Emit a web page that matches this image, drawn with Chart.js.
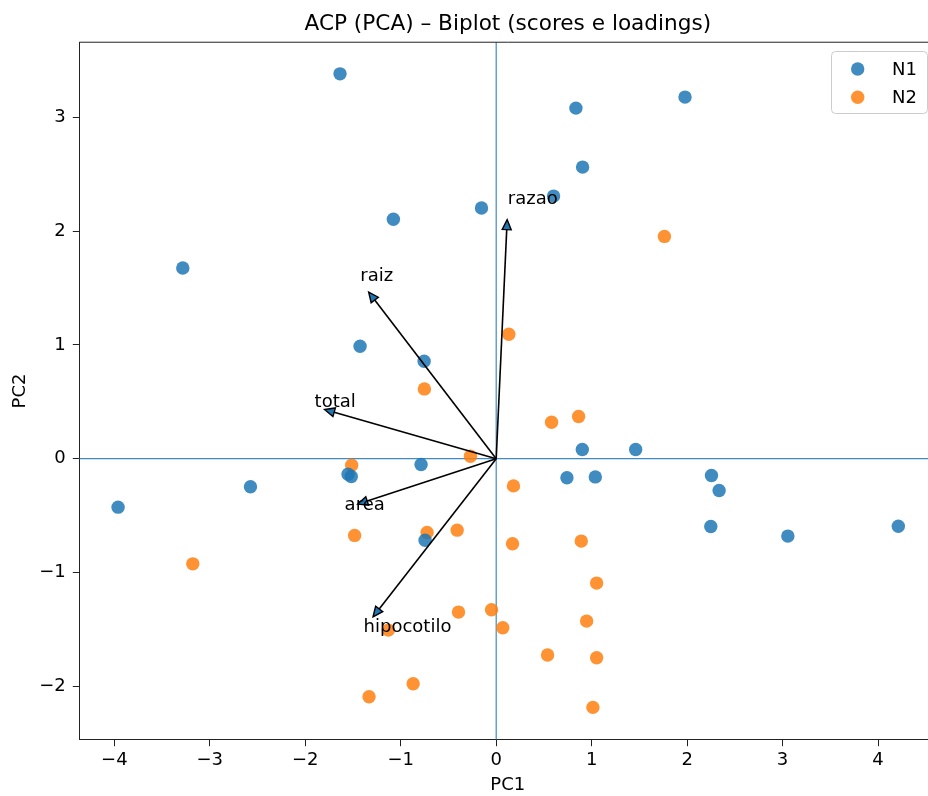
<!DOCTYPE html>
<html>
<head>
<meta charset="utf-8">
<script src="https://cdn.jsdelivr.net/npm/chart.js@4.4.1/dist/chart.umd.min.js"></script>
<style>
  html, body { margin: 0; padding: 0; background: #fff; overflow: hidden; }
  #wrap { width: 943px; height: 796px; }
</style>
</head>
<body>
<div id="wrap"><canvas id="biplot" width="943" height="796"></canvas></div>
<script>
// Scores (PC1, PC2)
const n1X = [-1.636, 0.835, 1.978, 0.905, 0.601, -0.154, -1.077, -3.283, -1.426, -0.755,
             0.902, 1.461, 0.741, 1.038, 2.255, 2.335, 2.248, 3.055, 4.212, -0.787,
             -1.552, -1.518, -2.574, -3.961, -0.745];
const n1Y = [3.381, 3.080, 3.177, 2.562, 2.307, 2.202, 2.103, 1.675, 0.988, 0.856,
             0.081, 0.081, -0.168, -0.160, -0.148, -0.279, -0.596, -0.680, -0.593, -0.051,
             -0.136, -0.157, -0.247, -0.426, -0.716];

const n2X = [1.762, 0.132, -0.752, 0.863, 0.580, -0.270, 0.181, -1.514, -1.483, -0.724,
             -0.409, 0.171, 0.891, 1.052, -3.178, -0.395, -0.049, 0.069, 0.947, 0.538,
             1.052, 1.013, -1.130, -0.870, -1.332];
const n2Y = [1.953, 1.093, 0.613, 0.370, 0.320, 0.022, -0.239, -0.057, -0.674, -0.648,
             -0.628, -0.748, -0.724, -1.093, -0.924, -1.348, -1.327, -1.485, -1.427, -1.725,
             -1.749, -2.185, -1.506, -1.977, -2.091];

// Loadings (arrow tips) and where their names sit
const loadNames = ['razao', 'raiz', 'total', 'area', 'hipocotilo'];
const loadX = [0.115, -1.336, -1.798, -1.451, -1.290];
const loadY = [2.100, 1.464, 0.432, -0.399, -1.389];
const labelX = [0.122, -1.424, -1.902, -1.588, -1.389];
const labelY = [2.240, 1.558, 0.455, -0.452, -1.526];

const xTicks = [-4, -3, -2, -1, 0, 1, 2, 3, 4];
const yTicks = [-2, -1, 0, 1, 2, 3];

const FONT = 'DejaVu Sans';
const blue = 'rgba(31,119,180,0.85)';
const orange = 'rgba(255,127,14,0.85)';

function toPts(xs, ys) {
    return xs.map((x, i) => ({ x: x, y: ys[i] }));
}

function fmt(v) {
    return v < 0 ? '\u2212' + Math.abs(v) : String(v);
}

// zero lines behind the points
const zeroLines = {
    id: 'zeroLines',
    beforeDatasetsDraw(chart) {
        const { ctx, chartArea: a, scales: { x, y } } = chart;
        ctx.save();
        ctx.strokeStyle = 'rgba(31,119,180,0.85)';
        ctx.lineWidth = 1.2;
        ctx.beginPath();
        ctx.moveTo(a.left, y.getPixelForValue(0));
        ctx.lineTo(a.right, y.getPixelForValue(0));
        ctx.moveTo(x.getPixelForValue(0), a.top);
        ctx.lineTo(x.getPixelForValue(0), a.bottom);
        ctx.stroke();
        ctx.restore();
    }
};

// loading arrows + names, spines, legend
const overlay = {
    id: 'overlay',
    afterDatasetsDraw(chart) {
        const { ctx, scales: { x, y } } = chart;
        const x0 = x.getPixelForValue(0), y0 = y.getPixelForValue(0);
        ctx.save();
        loadNames.forEach((name, i) => {
            const tx = x.getPixelForValue(loadX[i]);
            const ty = y.getPixelForValue(loadY[i]);
            const ang = Math.atan2(ty - y0, tx - x0);
            const hl = 10, hw = 4.5;
            const bx = tx - hl * Math.cos(ang), by = ty - hl * Math.sin(ang);
            ctx.strokeStyle = '#000';
            ctx.lineWidth = 1.6;
            ctx.beginPath();
            ctx.moveTo(x0, y0);
            ctx.lineTo(bx, by);
            ctx.stroke();
            ctx.beginPath();
            ctx.moveTo(tx, ty);
            ctx.lineTo(bx + hw * Math.sin(ang), by - hw * Math.cos(ang));
            ctx.lineTo(bx - hw * Math.sin(ang), by + hw * Math.cos(ang));
            ctx.closePath();
            ctx.fillStyle = '#1f77b4';
            ctx.fill();
            ctx.lineWidth = 1.4;
            ctx.stroke();
        });
        ctx.fillStyle = '#000';
        ctx.font = '18px "' + FONT + '"';
        ctx.textAlign = 'left';
        ctx.textBaseline = 'alphabetic';
        loadNames.forEach((name, i) => {
            ctx.fillText(name, x.getPixelForValue(labelX[i]), y.getPixelForValue(labelY[i]));
        });
        ctx.restore();
    },
    afterDraw(chart) {
        const { ctx, chartArea: a } = chart;
        ctx.save();
        ctx.strokeStyle = '#222';
        ctx.lineWidth = 1;
        ctx.beginPath();
        ctx.moveTo(a.left, a.top);
        ctx.lineTo(a.right, a.top);
        ctx.lineTo(a.right, a.bottom);
        ctx.stroke();

        // legend box, upper right
        const bx = 831.5, by = 51.5, bw = 96, bh = 62;
        ctx.fillStyle = 'rgba(255,255,255,0.8)';
        ctx.strokeStyle = '#cccccc';
        ctx.beginPath();
        ctx.roundRect(bx, by, bw, bh, 4);
        ctx.fill();
        ctx.stroke();
        ctx.font = '18px "' + FONT + '"';
        ctx.textBaseline = 'middle';
        ctx.textAlign = 'left';
        chart.data.datasets.forEach((ds, i) => {
            const cy = 69 + i * 28.3;
            ctx.fillStyle = ds.backgroundColor;
            ctx.beginPath();
            ctx.arc(857.7, cy, 6.7, 0, Math.PI * 2);
            ctx.fill();
            ctx.fillStyle = '#000';
            ctx.fillText(ds.label, 892, cy + 1);
        });
        ctx.restore();
    }
};

new Chart(document.getElementById('biplot').getContext('2d'), {
    type: 'scatter',
    data: {
        datasets: [
            { label: 'N1', data: toPts(n1X, n1Y), backgroundColor: blue, borderWidth: 0, pointRadius: 6.7, pointHoverRadius: 6.7 },
            { label: 'N2', data: toPts(n2X, n2Y), backgroundColor: orange, borderWidth: 0, pointRadius: 6.7, pointHoverRadius: 6.7 }
        ]
    },
    options: {
        responsive: false,
        animation: false,
        events: [],
        layout: { padding: 0 },
        plugins: {
            legend: { display: false },
            tooltip: { enabled: false },
            title: {
                display: true,
                fullSize: false,
                text: 'ACP (PCA) \u2013 Biplot (scores e loadings)',
                color: '#000',
                font: { family: FONT, size: 21.6, weight: 'normal', lineHeight: 1.2 },
                padding: { top: 11.3, bottom: 5 }
            }
        },
        scales: {
            x: {
                type: 'linear',
                min: -4.367,
                max: 4.61,
                afterFit(scale) { scale.height = 56.3; },
                afterBuildTicks(scale) { scale.ticks = xTicks.map(v => ({ value: v })); },
                ticks: {
                    includeBounds: false,
                    color: '#000',
                    padding: 3,
                    font: { family: FONT, size: 18 },
                    callback: v => fmt(v)
                },
                grid: { drawOnChartArea: false, drawTicks: true, tickLength: 6.5, color: '#222' },
                border: { display: true, color: '#222', width: 1 },
                title: {
                    display: true, text: 'PC1', color: '#000',
                    font: { family: FONT, size: 18, lineHeight: 1.2 },
                    padding: { top: 0, bottom: 0 }
                }
            },
            y: {
                type: 'linear',
                min: -2.469,
                max: 3.659,
                afterFit(scale) { scale.width = 79.3; },
                afterBuildTicks(scale) { scale.ticks = yTicks.map(v => ({ value: v })); },
                ticks: {
                    includeBounds: false,
                    color: '#000',
                    padding: 7,
                    font: { family: FONT, size: 18 },
                    callback: v => fmt(v)
                },
                grid: { drawOnChartArea: false, drawTicks: true, tickLength: 6.5, color: '#222' },
                border: { display: true, color: '#222', width: 1 },
                title: {
                    display: true, text: 'PC2', color: '#000',
                    font: { family: FONT, size: 18, lineHeight: 1.2 },
                    padding: { top: 10, bottom: 0 }
                }
            }
        }
    },
    plugins: [zeroLines, overlay]
});
</script>
</body>
</html>
